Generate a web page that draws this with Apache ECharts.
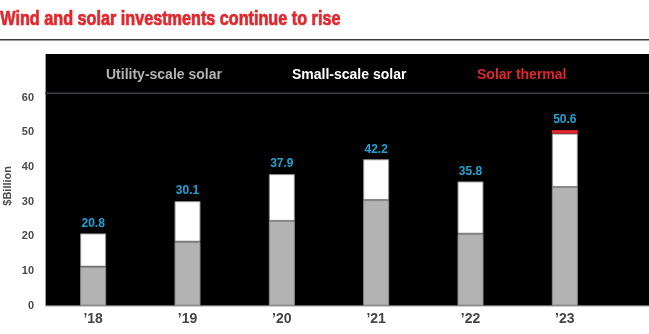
<!DOCTYPE html>
<html>
<head>
<meta charset="utf-8">
<script src="https://cdn.jsdelivr.net/npm/echarts@6/dist/echarts.min.js"></script>
<style>
  html, body { margin: 0; padding: 0; background: #fff; }
  #chart { width: 649px; height: 334px; }
</style>
</head>
<body>
<div id="chart"></div>
<script>
// Solar investment by type, $ billion
const years = ['\u201918', '\u201919', '\u201920', '\u201921', '\u201922', '\u201923'];
const utilityScale = [11.2, 18.4, 24.4, 30.4, 20.7, 34.2];
const smallScale = [9.6, 11.7, 13.5, 11.8, 15.1, 15.4];
const solarThermal = [0, 0, 0, 0, 0, 1.0];
const yTicks = { min: 0, max: 60, interval: 10 };

const totals = years.map((_, i) => (utilityScale[i] + smallScale[i] + solarThermal[i]).toFixed(1));

const chart = echarts.init(document.getElementById('chart'), null, { renderer: 'canvas' });

const boldFont = "'Liberation Sans', Arial, sans-serif";
const barBorder = '#8c8c8c';

function legendItem(name, color, left) {
  return {
    data: [{ name: name, textStyle: { color: color } }],
    left: left,
    top: 63,
    icon: 'none',
    itemWidth: 0,
    itemHeight: 0,
    selectedMode: false,
    textStyle: { fontFamily: boldFont, fontWeight: 'bold', fontSize: 14 }
  };
}

chart.setOption({
  animation: false,
  backgroundColor: '#fff',
  graphic: [
    // headline, set in a condensed cut
    {
      type: 'text', left: 0, top: 9, scaleX: 0.81, originX: 0,
      style: {
        text: 'Wind and solar investments continue to rise',
        fill: '#e3262c',
        stroke: '#e3262c',
        lineWidth: 0.7,
        font: "bold 20px 'Liberation Sans', Arial, sans-serif"
      }
    },
    // rule under the headline
    { type: 'rect', z: -10, shape: { x: 0, y: 39, width: 649, height: 1.5 }, style: { fill: '#3a3a3a' } },
    // dark panel behind the plot
    { type: 'rect', z: -10, shape: { x: 45, y: 54, width: 604, height: 252 }, style: { fill: '#000' } },
    { type: 'rect', z: -9, shape: { x: 45, y: 54, width: 1, height: 252 }, style: { fill: '#9a9a9a' } },
    // separator below the legend
    { type: 'rect', z: -9, shape: { x: 45, y: 92.5, width: 604, height: 1.5 }, style: { fill: '#3c3f44' } },
    // baseline
    { type: 'rect', z: 5, shape: { x: 45, y: 305.5, width: 604, height: 1.5 }, style: { fill: '#cfcfcf' } },
    // unit label
    {
      type: 'text', left: 2, top: 166, rotation: Math.PI / 2,
      style: { text: '$Billion', fill: '#4a4a4a', font: "bold 11px 'Liberation Sans', Arial, sans-serif" }
    }
  ],
  legend: [
    legendItem('Utility-scale solar', '#b3b3b3', 96),
    legendItem('Small-scale solar', '#ffffff', 282),
    legendItem('Solar thermal', '#e3262c', 467)
  ],
  grid: { left: 46, right: 37, top: 97.5, bottom: 28.5, containLabel: false },
  xAxis: {
    type: 'category',
    data: years,
    axisLine: { show: false },
    axisTick: { show: false },
    axisLabel: {
      margin: 7,
      color: '#454545',
      fontFamily: boldFont,
      fontWeight: 'bold',
      fontSize: 14
    }
  },
  yAxis: {
    type: 'value',
    min: yTicks.min,
    max: yTicks.max,
    interval: yTicks.interval,
    axisLine: { show: false },
    axisTick: { show: false },
    splitLine: { show: false },
    axisLabel: {
      margin: 12,
      color: '#4a4a4a',
      fontFamily: boldFont,
      fontWeight: 'bold',
      fontSize: 11
    }
  },
  series: [
    {
      name: 'Utility-scale solar',
      type: 'bar',
      stack: 'solar',
      barWidth: 26,
      data: utilityScale,
      itemStyle: { color: '#b3b3b3', borderColor: barBorder, borderWidth: 1 }
    },
    {
      name: 'Small-scale solar',
      type: 'bar',
      stack: 'solar',
      barWidth: 26,
      data: smallScale,
      itemStyle: { color: '#ffffff', borderColor: barBorder, borderWidth: 1 }
    },
    {
      name: 'Solar thermal',
      type: 'bar',
      stack: 'solar',
      barWidth: 26,
      data: solarThermal,
      itemStyle: { color: '#e3262c' },
      label: {
        show: true,
        position: 'top',
        distance: 4,
        formatter: p => totals[p.dataIndex],
        color: '#1ea3d6',
        fontFamily: boldFont,
        fontWeight: 'bold',
        fontSize: 12
      }
    }
  ]
});
</script>
</body>
</html>
